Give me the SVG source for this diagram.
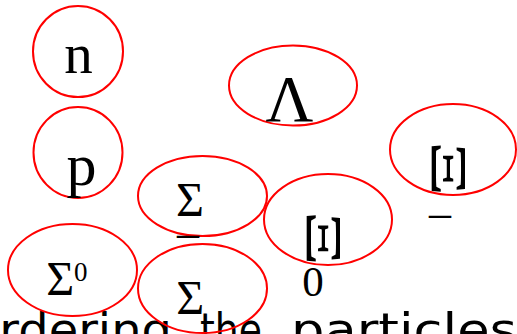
<svg xmlns="http://www.w3.org/2000/svg" width="517" height="334" viewBox="0 0 517 334">
<style>
.node ellipse{fill:none;stroke:#ff0000;stroke-width:2}
.g{font-family:"Liberation Serif","Times New Roman",serif;fill:#000}
.cap{font-family:"DejaVu Sans","Liberation Sans",sans-serif;fill:#000;font-size:44px}
</style>
<rect width="517" height="334" fill="#fff"/>
<text class="cap" y="345"><tspan x="-30" textLength="202" lengthAdjust="spacingAndGlyphs">ordering</tspan><tspan x="200" textLength="62" lengthAdjust="spacingAndGlyphs">the</tspan><tspan x="291" textLength="226" lengthAdjust="spacingAndGlyphs">particles</tspan></text>
<g id="connectors"></g>
<g id="node-n" class="node">
<ellipse cx="78" cy="51.5" rx="45" ry="45.5"/>
<text class="g" x="78.5" y="73" font-size="57" text-anchor="middle">n</text>
</g>
<g id="node-p" class="node">
<ellipse cx="78" cy="152.5" rx="44.5" ry="45.5"/>
<text class="g" x="81.5" y="185" font-size="60" text-anchor="middle">p</text>
</g>
<g id="node-lambda" class="node">
<ellipse cx="293" cy="85.5" rx="64" ry="40"/>
<text class="g" x="289.5" y="121" font-size="66" text-anchor="middle">Λ</text>
</g>
<g id="node-sigma-minus" class="node">
<ellipse cx="202.5" cy="196" rx="64.5" ry="40"/>
<text class="g" x="190" y="216" font-size="48" text-anchor="middle">Σ</text>
<text class="g" x="188" y="247" font-size="44" text-anchor="middle">–</text>
</g>
<g id="node-sigma-plus" class="node">
<ellipse cx="202.5" cy="288.5" rx="64.5" ry="44.5"/>
<text class="g" x="190.3" y="314" font-size="48" text-anchor="middle">Σ</text>
</g>
<g id="node-sigma-zero" class="node">
<ellipse cx="72.5" cy="270" rx="64.5" ry="46"/>
<text class="g" x="60.2" y="295" font-size="48" text-anchor="middle">Σ</text>
<text class="g" x="74" y="281" font-size="27">0</text>
</g>
<g id="node-xi-zero" class="node">
<ellipse cx="328" cy="219.5" rx="64" ry="45.5"/>
<text class="g" font-size="56" text-anchor="middle" transform="translate(323.5 238.5) rotate(90) scale(1.55 0.9)" y="18.5">Ξ</text>
<text class="g" x="313" y="296" font-size="43" text-anchor="middle">0</text>
</g>
<g id="node-xi-minus" class="node">
<ellipse cx="453" cy="149.5" rx="63" ry="45.5"/>
<text class="g" font-size="56" text-anchor="middle" transform="translate(449 168.7) rotate(90) scale(1.55 0.9)" y="18.5">Ξ</text>
<text class="g" x="440" y="226.5" font-size="44" text-anchor="middle">–</text>
</g>
</svg>
